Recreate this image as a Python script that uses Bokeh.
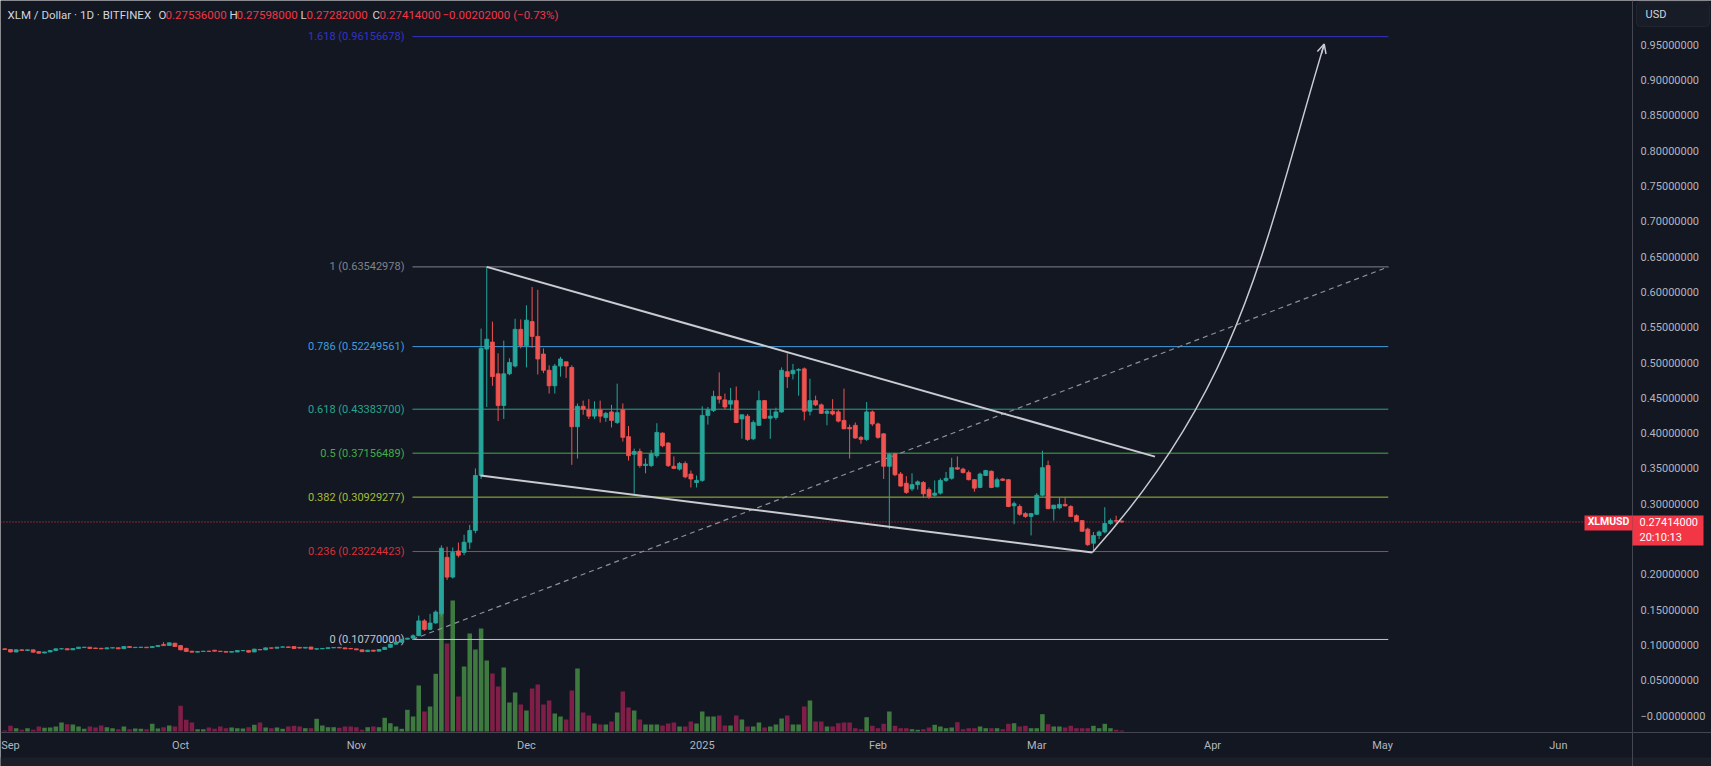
import pandas as pd
from bokeh.plotting import figure
from bokeh.models import (ColumnDataSource, Range1d, FixedTicker, CustomJSTickFormatter,
                          Label, Arrow, OpenHead, BoxAnnotation)
from bokeh.core.properties import value
from bokeh.embed import file_html
from bokeh.resources import INLINE

# ---------------- data (daily candles, BITFINEX XLM/USD) ----------------
first_date = "2024-08-31"
origin_date = "2024-09-01"

opens = [
 .0944, .0935, .0900, .0930, .0921, .0930, .0905, .0885, .0900, .0921,
 .0944, .0946, .0930, .0949, .0962, .0968, .0956, .0952, .0944, .0956,
 .0960, .0947, .0977, .0962, .0964, .0968, .0962, .0977, .1006, .0992,
 .1024, .0990, .0950, .0911, .0897, .0907, .0911, .0925, .0911, .0907,
 .0897, .0900, .0918, .0921, .0900, .0935, .0930, .0958, .0953, .0968,
 .0972, .0977, .0965, .0955, .0970, .0940, .0944, .0950, .0958, .0965,
 .0958, .0950, .0944, .0930, .0905, .0925, .0911, .0935, .0966, .1010,
 .1039, .1080, .1095, .1130, .1340, .1220, .1310, .1440, .2240, .1960,
 .2330, .2310, .2455, .2620, .3400, .5190, .5290, .4840, .4390, .4840,
 .4950, .5470, .5240, .5580, .5370, .5120, .4890, .4670, .4950, .5010,
 .4930, .4090, .4380, .4330, .4240, .4330, .4220, .4300, .4150, .4330,
 .3950, .3700, .3740, .3540, .3540, .3680, .4000, .3860, .3530, .3490,
 .3570, .3420, .3300, .3330, .4250, .4320, .4520, .4470, .4410, .4460,
 .4200, .4240, .3920, .4110, .4460, .4210, .4220, .4300, .4870, .4840,
 .4890, .4910, .4310, .4460, .4400, .4280, .4310, .4300, .4180, .4080,
 .4110, .3940, .3910, .4300, .4130, .3990, .3530, .3710, .3420, .3290,
 .3210, .3270, .3300, .3200, .3120, .3150, .3330, .3360, .3510, .3490,
 .3440, .3340, .3230, .3400, .3460, .3240, .3350, .3340, .2970, .2960,
 .2860, .2820, .2850, .3120, .3540, .2930, .2940, .2990, .2960, .2830,
 .2760, .2640, .2440, .2550, .2600, .2720, .2760, .27536]
highs = [
 .0950, .0940, .0935, .0936, .0934, .0932, .0908, .0903, .0925, .0950,
 .0951, .0950, .0953, .0972, .0972, .0970, .0960, .0955, .0962, .0963,
 .0962, .0980, .0980, .0970, .0972, .0970, .0981, .0996, .1039, .1033,
 .1030, .0995, .0960, .0915, .0910, .0915, .0918, .0928, .0915, .0910,
 .0908, .0925, .0925, .0924, .0945, .0940, .0962, .0963, .0972, .0978,
 .0976, .0980, .0970, .0968, .0974, .0950, .0955, .0963, .0967, .0968,
 .0961, .0953, .0948, .0933, .0930, .0928, .0940, .0972, .1015, .1045,
 .1085, .1100, .1150, .1416, .1365, .1440, .1490, .2410, .2390, .2380,
 .2450, .2560, .2700, .3500, .5480, .6354, .5580, .5130, .5310, .5060,
 .5620, .5610, .5810, .6070, .6030, .5200, .4960, .4980, .5080, .5010,
 .4960, .4420, .4460, .4480, .4450, .4460, .4300, .4400, .4700, .4420,
 .4100, .3780, .3780, .3640, .3760, .4140, .4010, .3870, .3670, .3590,
 .3600, .3470, .3400, .4380, .4370, .4600, .4860, .4560, .4640, .4660,
 .4260, .4270, .4180, .4600, .4470, .4340, .4360, .4930, .5130, .4980,
 .4920, .4930, .4770, .4530, .4420, .4340, .4480, .4330, .4630, .4120,
 .4150, .3960, .4440, .4320, .4150, .4000, .3720, .3720, .3450, .3390,
 .3430, .3330, .3320, .3230, .3330, .3360, .3450, .3650, .3670, .3510,
 .3470, .3350, .3440, .3480, .3470, .3370, .3360, .3350, .3030, .2990,
 .2880, .2870, .3150, .3750, .3610, .2980, .3090, .3090, .2980, .2850,
 .2770, .2660, .2600, .2620, .2950, .2790, .2830, .27598]
lows = [
 .0930, .0893, .0895, .0915, .0915, .0893, .0872, .0880, .0896, .0918,
 .0936, .0925, .0927, .0946, .0958, .0945, .0945, .0940, .0941, .0952,
 .0940, .0944, .0960, .0958, .0960, .0956, .0958, .0974, .0984, .0988,
 .0972, .0925, .0900, .0892, .0893, .0902, .0903, .0906, .0900, .0893,
 .0893, .0897, .0914, .0893, .0897, .0925, .0926, .0948, .0950, .0962,
 .0958, .0944, .0950, .0950, .0936, .0935, .0940, .0946, .0954, .0953,
 .0940, .0940, .0926, .0898, .0900, .0905, .0908, .0930, .0960, .1000,
 .1030, .1077, .1090, .1125, .1200, .1210, .1300, .1400, .1920, .1940,
 .2240, .2270, .2360, .2580, .3350, .4370, .4670, .4170, .4200, .4820,
 .4930, .5200, .4930, .5210, .4830, .4850, .4560, .4560, .4800, .4780,
 .3550, .3640, .4260, .4200, .4200, .4150, .4160, .4080, .4130, .3880,
 .3610, .3140, .3510, .3430, .3520, .3650, .3800, .3520, .3490, .3470,
 .3360, .3230, .3230, .3310, .4120, .4300, .4420, .4340, .4320, .4140,
 .3920, .3890, .3900, .4100, .4200, .3920, .4190, .4290, .4640, .4760,
 .4530, .4180, .4250, .4380, .4270, .4110, .4250, .4150, .4060, .3640,
 .3920, .3850, .3890, .4100, .3920, .3350, .2640, .3390, .3240, .3140,
 .3180, .3200, .3080, .3070, .3100, .3130, .3310, .3340, .3480, .3430,
 .3330, .3170, .3220, .3390, .3220, .3230, .3320, .2950, .2710, .2830,
 .2800, .2550, .2840, .3100, .2920, .2760, .2920, .2960, .2810, .2740,
 .2600, .2400, .2322, .2500, .2580, .2700, .2720, .27282]
closes = [
 .0935, .0900, .0930, .0921, .0930, .0897, .0883, .0900, .0921, .0944,
 .0946, .0930, .0949, .0968, .0968, .0949, .0949, .0944, .0958, .0960,
 .0944, .0977, .0963, .0966, .0968, .0960, .0977, .0992, .0990, .1029,
 .0977, .0930, .0907, .0897, .0907, .0911, .0907, .0911, .0905, .0897,
 .0905, .0921, .0921, .0897, .0940, .0930, .0958, .0953, .0968, .0972,
 .0963, .0949, .0955, .0965, .0940, .0946, .0950, .0960, .0963, .0958,
 .0944, .0944, .0930, .0905, .0925, .0911, .0935, .0966, .1010, .1039,
 .1080, .1095, .1130, .1340, .1220, .1310, .1465, .2370, .1960, .2310,
 .2270, .2455, .2620, .3400, .5200, .5330, .4800, .4390, .4840, .5000,
 .5470, .5240, .5600, .5370, .5050, .4890, .4670, .4950, .5050, .4950,
 .4090, .4380, .4340, .4240, .4330, .4240, .4280, .4180, .4290, .3940,
 .3680, .3740, .3540, .3560, .3710, .4010, .3820, .3540, .3500, .3570,
 .3380, .3350, .3330, .4250, .4330, .4520, .4480, .4370, .4460, .4150,
 .4260, .3910, .4150, .4460, .4210, .4240, .4300, .4890, .4800, .4890,
 .4900, .4310, .4460, .4400, .4280, .4310, .4270, .4170, .4060, .4060,
 .3930, .3910, .4300, .4130, .3940, .3530, .3700, .3410, .3250, .3160,
 .3270, .3310, .3140, .3100, .3150, .3330, .3360, .3510, .3490, .3440,
 .3340, .3220, .3420, .3470, .3230, .3340, .3330, .2960, .3000, .2850,
 .2820, .2860, .3120, .3510, .2930, .2980, .2990, .2970, .2820, .2750,
 .2610, .2420, .2550, .2600, .2720, .2760, .2754, .27414]
volumes = [  # millions (relative)
 1.0, 5.7, 3.3, 1.7, 3.3, 1.7, 5.0, 3.7, 4.0, 5.0,
 9.0, 7.3, 7.0, 5.0, 2.7, 5.0, 4.0, 6.0, 4.3, 3.3,
 2.3, 5.0, 2.3, 3.0, 2.7, 2.3, 7.7, 3.0, 4.3, 6.0,
 5.0, 25.7, 11.7, 9.0, 2.3, 2.3, 4.0, 2.7, 5.0, 3.3,
 4.0, 3.3, 3.0, 4.3, 6.7, 9.0, 4.0, 3.3, 4.0, 2.7,
 5.0, 5.7, 5.0, 3.3, 3.3, 12.7, 6.0, 4.3, 4.3, 3.7,
 5.0, 5.0, 4.3, 1.7, 4.3, 5.0, 4.3, 13.7, 8.3, 5.0,
 2.7, 21.7, 15.0, 46.0, 20.0, 25.0, 57.7, 180.0, 88.0, 131.0,
 35.0, 65.0, 98.0, 82.0, 103.0, 71.0, 58.0, 45.0, 64.0, 29.0,
 39.0, 27.0, 21.0, 43.0, 47.0, 27.0, 31.0, 18.0, 15.0, 12.0,
 41.0, 63.0, 19.0, 16.0, 8.0, 7.0, 7.0, 10.0, 19.0, 40.0,
 24.0, 21.0, 12.0, 7.0, 7.0, 7.0, 6.0, 8.0, 9.0, 5.0,
 5.0, 10.0, 8.0, 20.0, 15.0, 15.0, 16.0, 6.0, 6.0, 16.0,
 12.0, 5.0, 5.0, 9.0, 4.0, 5.0, 7.0, 13.0, 16.0, 7.0,
 7.0, 25.0, 31.0, 10.0, 10.0, 5.0, 5.0, 8.3, 9.0, 9.0,
 3.3, 2.3, 14.3, 5.7, 3.3, 7.7, 20.0, 5.7, 3.3, 3.3,
 2.3, 1.7, 2.3, 4.0, 6.7, 5.0, 3.3, 4.0, 9.3, 2.3,
 3.3, 3.3, 5.0, 3.3, 3.3, 3.3, 2.3, 7.7, 8.3, 5.0,
 5.7, 3.3, 3.3, 17.3, 7.3, 5.0, 5.0, 4.0, 5.7, 3.3,
 3.3, 3.3, 5.7, 3.3, 7.7, 3.3, 1.7, 1.0]

# Fibonacci retracement levels
fib_ratios = ["0", "0.236", "0.382", "0.5", "0.618", "0.786", "1", "1.618"]
fib_prices = [0.1077, 0.23224423, 0.30929277, 0.37156489, 0.433837, 0.52249561, 0.63542978, 0.96156678]
fib_colors = ["#c3c6cc", "#d9303b", "#a8bb37", "#43ad47", "#26a58d", "#3f9ddf", "#7f828c", "#3333c4"]
fib_start_day, fib_end_day = 70.9, 243.0

# drawing anchors (day index, price)
upper_wedge = ([84.0, 201.85], [0.6354, 0.3667])
lower_wedge = ([82.9, 190.8], [0.340, 0.2310])
curve_pts = dict(x0=190.8, y0=0.2310, cx0=217.2, cy0=0.4657, cx1=221.1, cy1=0.6677, x1=231.7, y1=0.951)

price_ticks = [0.0, 0.05, 0.1, 0.15, 0.2, 0.3, 0.35, 0.4, 0.45, 0.5, 0.55, 0.6, 0.65,
               0.7, 0.75, 0.8, 0.85, 0.9, 0.95]
month_labels = ["Sep", "Oct", "Nov", "Dec", "2025", "Feb", "Mar", "Apr", "May", "Jun"]
month_starts = ["2024-09-01", "2024-10-01", "2024-11-01", "2024-12-01", "2025-01-01",
                "2025-02-01", "2025-03-01", "2025-04-01", "2025-05-01", "2025-06-01"]
countdown = "20:10:13"
symbol = "XLMUSD"

# ---------------- layout geometry ----------------
W, H = 1711, 766
TIME_AXIS_PX = 732   # y pixel of the time scale line
STRIP_PX = 757       # top of the bottom toolbar strip
AXIS_PX = 1632       # price scale separator
PX_PER_DAY = 5.67
DAY0 = -1.76         # day index at left edge
PX_PER_USD = 706.0
ZERO_PX = 715.0      # y pixel of price 0
VOL_BASE_PX = 731.0  # y pixel of volume baseline


def day_at(px):
    return DAY0 + px / PX_PER_DAY


def price_at(py):
    return (ZERO_PX - py) / PX_PER_USD


# ---------------- derived ----------------
origin = pd.Timestamp(origin_date)
dates = pd.date_range(first_date, periods=len(closes), freq="D")
day = [(d - origin).days for d in dates]
up = [c >= o for o, c in zip(opens, closes)]
UP, DN = "#26a69a", "#ef5350"
VUP, VDN = "#3e7a3f", "#7f1f48"
src = ColumnDataSource(dict(
    x=day, o=opens, h=highs, l=lows, c=closes, v=volumes,
    top=[max(o, c) for o, c in zip(opens, closes)],
    bot=[min(o, c) for o, c in zip(opens, closes)],
    col=[UP if u else DN for u in up],
    vcol=[VUP if u else VDN for u in up],
))
tick_days = [(pd.Timestamp(m) - origin).days for m in month_starts]

BG = "#131722"
AX = "#434651"
TXT = "#b2b5be"
RED = "#f23645"
DRAW = "#c9cbd1"
FONT = "Roboto"
axis_day = day_at(AXIS_PX)

p = figure(width=W, height=H, output_backend="svg", toolbar_location=None,
           x_range=Range1d(day_at(0), day_at(W)), y_range=Range1d(price_at(H), price_at(0)),
           y_axis_location="right", x_axis_location="below",
           min_border_left=0, min_border_top=0, min_border_right=0, min_border_bottom=0,
           background_fill_color=BG, border_fill_color=BG, outline_line_color=None)
p.extra_y_ranges = {"vol": Range1d(VOL_BASE_PX - H, VOL_BASE_PX)}
p.xgrid.visible = False
p.ygrid.visible = False

# bottom toolbar strip
p.add_layout(BoxAnnotation(left=day_at(0), right=day_at(W), top=price_at(STRIP_PX), bottom=price_at(H),
                           fill_color="#1c1f29", fill_alpha=1, line_color=None, level="underlay"))

ya = p.yaxis[0]
ya.fixed_location = axis_day
ya.ticker = FixedTicker(ticks=price_ticks)
ya.formatter = CustomJSTickFormatter(code="return tick < 0.001 ? '\u22120.00000000' : tick.toFixed(8);")
xa = p.xaxis[0]
xa.fixed_location = price_at(TIME_AXIS_PX)
xa.ticker = FixedTicker(ticks=tick_days)
xa.major_label_overrides = {d: lab for d, lab in zip(tick_days, month_labels)}
for ax in (ya, xa):
    ax.major_label_text_font = FONT
    ax.major_label_text_font_size = "11px"
    ax.major_label_text_color = TXT
    ax.major_tick_line_color = None
    ax.minor_tick_line_color = None
    ax.major_tick_out = 0
    ax.major_tick_in = 0
    ax.minor_tick_out = 0
    ax.axis_line_color = AX
ya.major_label_standoff = 8
xa.major_label_standoff = 6

# price-scale separator continues through the time scale
p.segment(x0=[axis_day], y0=[price_at(TIME_AXIS_PX)], x1=[axis_day], y1=[price_at(STRIP_PX)],
          line_color=AX, line_width=1)

# volume
p.vbar(x="x", width=0.8, top="v", bottom=0, source=src, y_range_name="vol",
       fill_color="vcol", line_color=None)

# fib levels
n_fib = len(fib_prices)
for pr, colr in zip(fib_prices, fib_colors):
    p.segment(x0=[fib_start_day], y0=[pr], x1=[fib_end_day], y1=[pr], line_color=colr, line_width=1)
fib_text = [f"{r} ({v:.8f})" for r, v in zip(fib_ratios, fib_prices)]
p.text(x=[fib_start_day] * n_fib, y=fib_prices, text=fib_text, x_offset=-8,
       text_align="right", text_baseline="middle", text_color=fib_colors,
       text_font=value(FONT), text_font_size=value("11px"))
p.line([fib_start_day, fib_end_day], [fib_prices[0], fib_prices[6]],
       line_color="#8d9099", line_width=1.2, line_dash="5 4")

# current price line (dotted, up to the price scale)
last = closes[-1]
p.segment(x0=[day_at(0)], y0=[last], x1=[axis_day], y1=[last], line_color=RED,
          line_width=1, line_dash="1 2")

# candles
p.segment(x0="x", y0="l", x1="x", y1="h", source=src, line_color="col", line_width=1)
p.vbar(x="x", width=0.7, top="top", bottom="bot", source=src,
       fill_color="col", line_color="col", line_width=0.8)

# drawings
p.line(*upper_wedge, line_color=DRAW, line_width=2)
p.line(*lower_wedge, line_color=DRAW, line_width=2)
p.bezier(line_color=DRAW, line_width=1.5, **curve_pts)
p.add_layout(Arrow(end=OpenHead(size=9, line_color=DRAW, line_width=1.5),
                   x_start=231.2, y_start=0.9374, x_end=curve_pts["x1"], y_end=curve_pts["y1"],
                   line_color=DRAW, line_width=1.5))

# header
hdr = [(7, "XLM / Dollar \u00b7 1D \u00b7 BITFINEX", "#d1d4dc"),
       (158, "O", "#d1d4dc"), (165, f"{opens[-1]:.8f}", RED),
       (229, "H", "#d1d4dc"), (236, f"{highs[-1]:.8f}", RED),
       (300, "L", "#d1d4dc"), (306, f"{lows[-1]:.8f}", RED),
       (372, "C", "#d1d4dc"), (379, f"{closes[-1]:.8f}", RED),
       (442, "\u22120.00202000 (\u22120.73%)", RED)]
for xx, t, col in hdr:
    p.add_layout(Label(x=day_at(xx), y=price_at(14), text=t,
                       text_color=col, text_font=FONT, text_font_size="11.5px",
                       text_baseline="middle", text_align="left"))

# symbol tag + price tag on the price scale
tag_top, tag_bot = price_at(515), price_at(530)
p.add_layout(BoxAnnotation(left=day_at(1584), right=axis_day, top=tag_top, bottom=tag_bot,
                           fill_color=RED, fill_alpha=1, line_color=None))
p.add_layout(BoxAnnotation(left=axis_day, right=day_at(1703), top=tag_top, bottom=price_at(545),
                           fill_color=RED, fill_alpha=1, line_color=None))
# currency button
p.add_layout(BoxAnnotation(left=day_at(1636), right=day_at(1709), top=price_at(1), bottom=price_at(26),
                           fill_color="#181c27", fill_alpha=1, line_color="#3a3e4a", line_width=1,
                           border_radius=4))

tag_texts = [
    (day_at(1608), last, symbol, "center", "10.5px", "bold", "white"),
    (day_at(1639), last, f"{last:.8f}", "left", "11px", "normal", "white"),
    (day_at(1639), price_at(537), countdown, "left", "11px", "normal", "white"),
    (day_at(1645), price_at(13.5), "USD", "left", "11px", "normal", "#d1d4dc"),
]
for xx, yy, t, al, fs, st, col in tag_texts:
    p.add_layout(Label(x=xx, y=yy, text=t, text_align=al, text_baseline="middle",
                       text_color=col, text_font=FONT, text_font_size=fs,
                       text_font_style=st, level="overlay"))

open("out.html", "w").write(file_html(p, INLINE))
